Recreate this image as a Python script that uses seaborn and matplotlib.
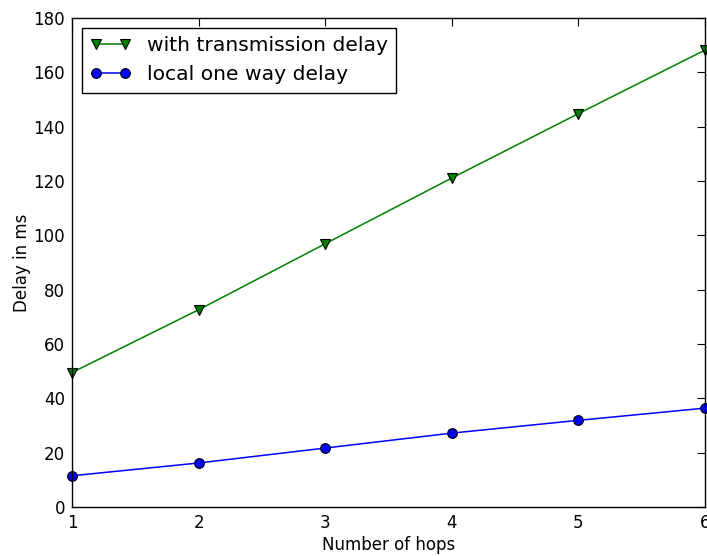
import matplotlib
matplotlib.use("Agg")
import matplotlib.pyplot as plt
import seaborn as sns
import pandas as pd

hops = [1, 2, 3, 4, 5, 6]
with_transmission = [49.5, 72.6, 96.9, 121.1, 144.8, 168.2]
local_one_way = [11.5, 16.2, 21.7, 27.2, 31.9, 36.4]
label_tx = "with transmission delay"
label_local = "local one way delay"

sns.set_style("white")
plt.rcParams['font.family'] = ['DejaVu Sans']
plt.rcParams['text.color'] = 'black'
plt.rcParams['axes.labelcolor'] = 'black'
plt.rcParams['xtick.color'] = 'black'
plt.rcParams['ytick.color'] = 'black'
plt.rcParams['xtick.direction'] = 'in'
plt.rcParams['ytick.direction'] = 'in'

fig = plt.figure(figsize=(7.07, 5.56), dpi=100)
ax = fig.add_axes([72/707, 49/556, 633/707, 489/556])

df = pd.DataFrame({"hops": hops, "tx": with_transmission, "local": local_one_way})

sns.lineplot(data=df, x="hops", y="tx", ax=ax, color=(0, 0.5, 0), marker="v",
             markersize=7, markeredgecolor="black", markeredgewidth=0.8,
             linewidth=1.1, label=label_tx)
sns.lineplot(data=df, x="hops", y="local", ax=ax, color=(0, 0, 1), marker="o",
             markersize=7, markeredgecolor="black", markeredgewidth=0.8,
             linewidth=1.1, label=label_local)

ax.set_xlim(1, 6)
ax.set_ylim(0, 180)
ax.set_xticks(hops)
ax.set_yticks(range(0, 181, 20))
ax.tick_params(axis='both', which='both', direction='in', length=6, width=0.8,
               top=True, right=True, labelsize=12, pad=5, color='black',
               labelcolor='black')
for s in ax.spines.values():
    s.set_visible(True)
    s.set_color('black')
    s.set_linewidth(1.0)
ax.set_xlabel("Number of hops", fontsize=12, labelpad=3, color='black')
ax.set_ylabel("Delay in ms", fontsize=12, labelpad=2, color='black')

leg = ax.legend(loc="upper left", fontsize=14.6, numpoints=2, fancybox=False,
                frameon=True, edgecolor='black', framealpha=1,
                borderaxespad=0.5, handlelength=2.0)
leg.get_frame().set_linewidth(1.0)
for t in leg.get_texts():
    t.set_color('black')

for l in ax.get_lines():
    l.set_clip_on(False)

fig.savefig("out.png", dpi=100)
